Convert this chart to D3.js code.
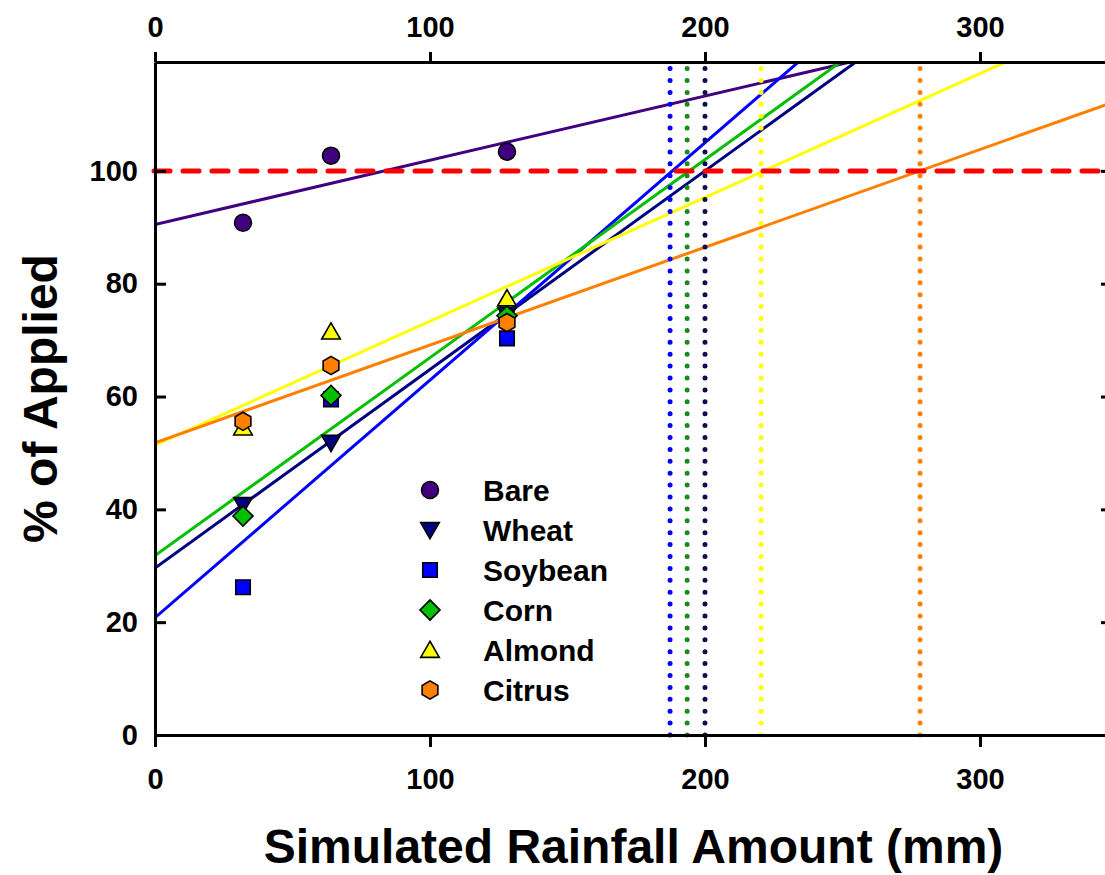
<!DOCTYPE html>
<html>
<head>
<meta charset="utf-8">
<script src="https://cdn.jsdelivr.net/npm/d3@7"></script>
<style>
  html, body { margin: 0; padding: 0; background: #fff; }
  svg { display: block; }
  text { font-family: "Liberation Sans", Arial, sans-serif; font-weight: bold; fill: #000; }
</style>
</head>
<body>
<svg id="chart" width="1105" height="875"></svg>
<script>
// Rainfall amounts (mm) at which runoff was sampled
const rainfall = [32, 64, 128];

// Cover types
const categories = ["Bare", "Wheat", "Soybean", "Corn", "Almond", "Citrus"];

// % of applied recovered, per cover type
const bareValues    = [90.8, 102.7, 103.4];
const wheatValues   = [40.8, 51.8, 74.5];
const soybeanValues = [26.2, 59.5, 70.3];
const cornValues    = [38.8, 60.2, 74.3];
const almondValues  = [54.5, 71.5, 77.4];
const citrusValues  = [55.6, 65.5, 73.1];

// Linear fits per cover type (intercept, slope)
const fitIntercepts = [90.5, 29.6, 20.8, 31.8, 51.4, 51.8];
const fitSlopes     = [0.1139, 0.352, 0.421, 0.351, 0.2195, 0.1733];

// Rainfall at which each fit reaches 100 %
const thresholdCategories = ["Soybean", "Corn", "Wheat", "Almond", "Citrus"];
const thresholdRainfall   = [187.3, 193.5, 200, 220.4, 278.2];

const targetPercent = 100;

const xTicks = [0, 100, 200, 300];
const yTicks = [0, 20, 40, 60, 80, 100];

const xDomain = [0, 348];
const yDomain = [0, 119.3];

const seriesValues = [bareValues, wheatValues, soybeanValues, cornValues, almondValues, citrusValues];

// Styling
const lineColors   = { Bare: "#400080", Wheat: "#000080", Soybean: "#0000ff", Corn: "#00c000", Almond: "#ffff00", Citrus: "#ff8000" };
const markerColors = { Bare: "#400080", Wheat: "#000080", Soybean: "#0000ff", Corn: "#00c000", Almond: "#ffff00", Citrus: "#ff8000" };
const dotColors    = { Soybean: "#0000ff", Corn: "#1a8a1a", Wheat: "#0d0d50", Almond: "#ffff00", Citrus: "#ff8000" };

const svg = d3.select("#chart");

const plotLeft = 155, plotTop = 62, plotBottom = 735;
const x = d3.scaleLinear().domain(xDomain).range([plotLeft, plotLeft + 2.75 * xDomain[1]]);
const y = d3.scaleLinear().domain(yDomain).range([plotBottom, plotTop]);
const plotRight = x(xDomain[1]);

svg.append("defs").append("clipPath").attr("id", "plot-clip")
  .append("rect")
  .attr("x", plotLeft).attr("y", plotTop)
  .attr("width", plotRight - plotLeft).attr("height", plotBottom - plotTop);

// Fit lines
const fits = categories.map((c, i) => ({ name: c, b: fitIntercepts[i], m: fitSlopes[i] }));
const lineGen = d3.line().x(d => x(d[0])).y(d => y(d[1]));
svg.append("g").attr("clip-path", "url(#plot-clip)")
  .selectAll("path.fit").data(fits).join("path")
  .attr("class", "fit")
  .attr("d", f => lineGen([[xDomain[0], f.b + f.m * xDomain[0]], [xDomain[1], f.b + f.m * xDomain[1]]]))
  .attr("fill", "none")
  .attr("stroke", f => lineColors[f.name])
  .attr("stroke-width", 3);

// 100 % reference line
svg.append("line")
  .attr("x1", x(0) - 1).attr("x2", 1105 + 10)
  .attr("y1", y(targetPercent)).attr("y2", y(targetPercent))
  .attr("stroke", "#ff0000")
  .attr("stroke-width", 5)
  .attr("stroke-linecap", "round")
  .attr("stroke-dasharray", "16 13");

// Dotted verticals at the rainfall reaching 100 %
const thresholds = thresholdCategories.map((c, i) => ({ name: c, v: thresholdRainfall[i] }));
svg.append("g").selectAll("line").data(thresholds).join("line")
  .attr("x1", d => x(d.v)).attr("x2", d => x(d.v))
  .attr("y1", y(0)).attr("y2", y(yDomain[1]) + 3)
  .attr("stroke", d => dotColors[d.name])
  .attr("stroke-width", 5)
  .attr("stroke-linecap", "round")
  .attr("stroke-dasharray", "0 11.9");

// Axes
const axisG = svg.append("g");
const axisStroke = g => {
  g.selectAll(".domain").attr("stroke", "#000").attr("stroke-width", 3);
  g.selectAll(".tick line").attr("stroke", "#000").attr("stroke-width", 3);
  g.selectAll(".tick text").style("font-size", "29px").style("font-weight", "bold").attr("fill", "#000");
};

axisG.append("g")
  .attr("transform", `translate(0,${plotBottom})`)
  .call(d3.axisBottom(x).tickValues(xTicks).tickSize(12).tickPadding(21).tickSizeOuter(0))
  .call(axisStroke);

axisG.append("g")
  .attr("transform", `translate(0,${plotTop})`)
  .call(d3.axisTop(x).tickValues(xTicks).tickSize(10).tickPadding(15).tickSizeOuter(0))
  .call(axisStroke);

axisG.append("g")
  .attr("transform", `translate(${plotLeft},0)`)
  .call(d3.axisLeft(y).tickValues(yTicks).tickSize(-11).tickPadding(25).tickSizeOuter(0))
  .call(axisStroke)
  .call(g => g.selectAll(".tick text").attr("x", -17));

axisG.append("g")
  .attr("transform", `translate(${plotRight},0)`)
  .call(d3.axisRight(y).tickValues(yTicks).tickSize(-11).tickFormat("").tickSizeOuter(0))
  .call(axisStroke);

// Markers
const hexagon = {
  draw(ctx, size) {
    const r = Math.sqrt(size / (1.5 * Math.sqrt(3)));
    for (let k = 0; k < 6; k++) {
      const a = -Math.PI / 2 + k * Math.PI / 3;
      const px = r * Math.cos(a), py = r * Math.sin(a);
      if (k === 0) ctx.moveTo(px, py); else ctx.lineTo(px, py);
    }
    ctx.closePath();
  }
};
const markerShape = {
  Bare:    { type: d3.symbolCircle,   size: 225, rotate: 0 },
  Wheat:   { type: d3.symbolTriangle, size: 150, rotate: 180 },
  Soybean: { type: d3.symbolSquare,   size: 210, rotate: 0 },
  Corn:    { type: d3.symbolSquare,   size: 200, rotate: 45 },
  Almond:  { type: d3.symbolTriangle, size: 150, rotate: 0 },
  Citrus:  { type: hexagon,           size: 215, rotate: 0 }
};
const symbolPath = name => d3.symbol().type(markerShape[name].type).size(markerShape[name].size)();

const points = [];
categories.forEach((c, i) => {
  seriesValues[i].forEach((v, j) => points.push({ name: c, rain: rainfall[j], value: v }));
});

svg.append("g").selectAll("path").data(points).join("path")
  .attr("d", d => symbolPath(d.name))
  .attr("transform", d => `translate(${x(d.rain)},${y(d.value) + (d.name === "Wheat" ? -2 : d.name === "Almond" ? 2 : 0)}) rotate(${markerShape[d.name].rotate})`)
  .attr("fill", d => markerColors[d.name])
  .attr("stroke", "#000")
  .attr("stroke-width", 1.6);

// Legend
const legend = svg.append("g").attr("transform", "translate(430,490)");
const rows = legend.selectAll("g").data(categories).join("g")
  .attr("transform", (d, i) => `translate(0,${i * 40})`);
rows.append("path")
  .attr("d", d => symbolPath(d))
  .attr("transform", d => `translate(0,${d === "Wheat" ? -2 : d === "Almond" ? 2 : 0}) rotate(${markerShape[d].rotate})`)
  .attr("fill", d => markerColors[d])
  .attr("stroke", "#000")
  .attr("stroke-width", 1.6);
rows.append("text")
  .attr("x", 53).attr("y", 0).attr("dy", "0.36em")
  .style("font-size", "30px")
  .text(d => d);

// Axis titles
svg.append("text")
  .attr("x", (plotLeft + plotRight) / 2).attr("y", 863)
  .attr("text-anchor", "middle")
  .style("font-size", "48px")
  .text("Simulated Rainfall Amount (mm)");

svg.append("text")
  .attr("transform", `translate(57,${(plotTop + plotBottom) / 2}) rotate(-90)`)
  .attr("text-anchor", "middle")
  .style("font-size", "48px")
  .text("% of Applied");
</script>
</body>
</html>
